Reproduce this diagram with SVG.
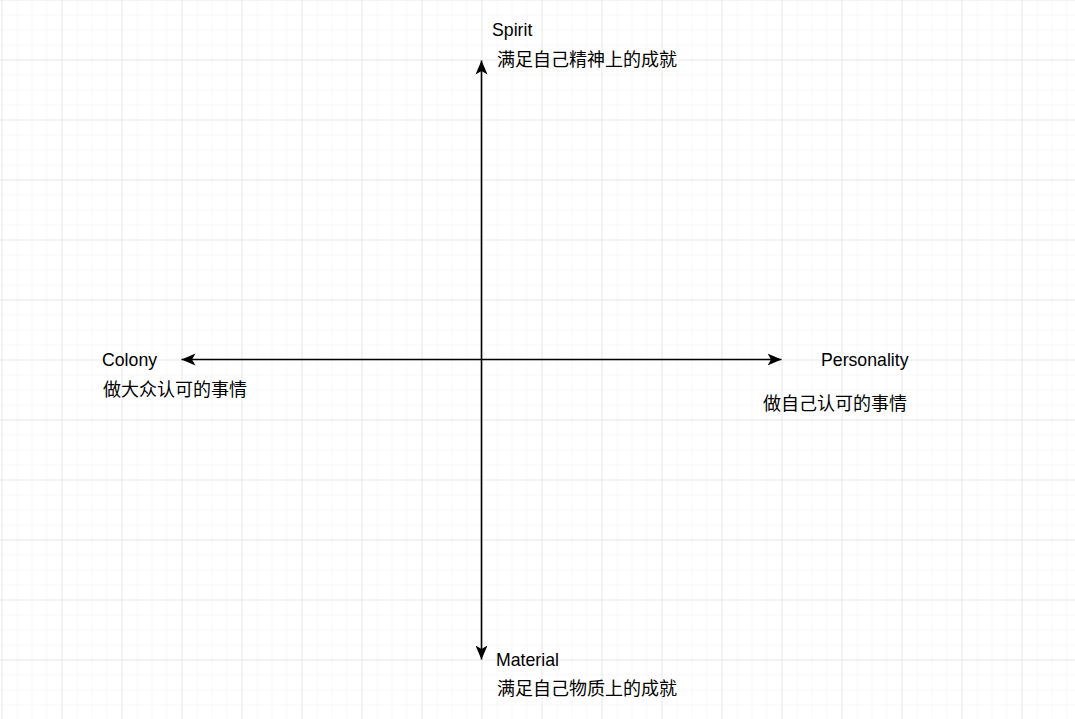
<svg xmlns="http://www.w3.org/2000/svg" width="1075" height="719" viewBox="0 0 1075 719">
<style>
.lbl{font-family:"Liberation Sans",Arial,"Noto Sans CJK SC",sans-serif;font-size:17.7px;fill:#000}
.cjk{font-family:"Liberation Sans","Noto Sans CJK SC",sans-serif;font-size:18px;fill:#000}
.axis{stroke:#000;stroke-width:1.6;fill:none}
</style>
<defs>
<pattern id="minor" x="1.5" y="-0.5" width="15" height="15" patternUnits="userSpaceOnUse">
<path d="M0,0V15M0,0H15" stroke="#f2f2f2" stroke-width="1" fill="none"/>
</pattern>
<pattern id="major" x="1.5" y="-0.5" width="60" height="60" patternUnits="userSpaceOnUse">
<path d="M0,0V60M0,0H60" stroke="#d9d9d9" stroke-width="1" fill="none"/>
</pattern>
<marker id="arr" viewBox="0 0 15 13" refX="14" refY="6.5" markerWidth="15" markerHeight="13" markerUnits="userSpaceOnUse" orient="auto">
<path d="M0,0.5 L14,6.5 L0,12.5 L3.5,6.5 Z" fill="#000"/>
</marker>
</defs>
<rect width="1075" height="719" fill="#fff"/>
<rect width="1075" height="719" fill="url(#minor)"/>
<rect width="1075" height="719" fill="url(#major)"/>
<g id="connectors">
<line class="axis" x1="481.5" y1="359.5" x2="481.5" y2="60.5" marker-end="url(#arr)"/>
<line class="axis" x1="481.5" y1="359.5" x2="481.5" y2="659.5" marker-end="url(#arr)"/>
<line class="axis" x1="481.5" y1="359.5" x2="181.5" y2="359.5" marker-end="url(#arr)"/>
<line class="axis" x1="481.5" y1="359.5" x2="781.5" y2="359.5" marker-end="url(#arr)"/>
</g>
<g id="spirit">
<text class="lbl" x="492" y="36">Spirit</text>
<text class="cjk" x="497" y="66">满足自己精神上的成就</text>
</g>
<g id="colony">
<text class="lbl" x="102" y="366">Colony</text>
<text class="cjk" x="103" y="396">做大众认可的事情</text>
</g>
<g id="personality">
<text class="lbl" x="821" y="366">Personality</text>
<text class="cjk" x="763" y="410">做自己认可的事情</text>
</g>
<g id="material">
<text class="lbl" x="496" y="666">Material</text>
<text class="cjk" x="497" y="695">满足自己物质上的成就</text>
</g>
</svg>
